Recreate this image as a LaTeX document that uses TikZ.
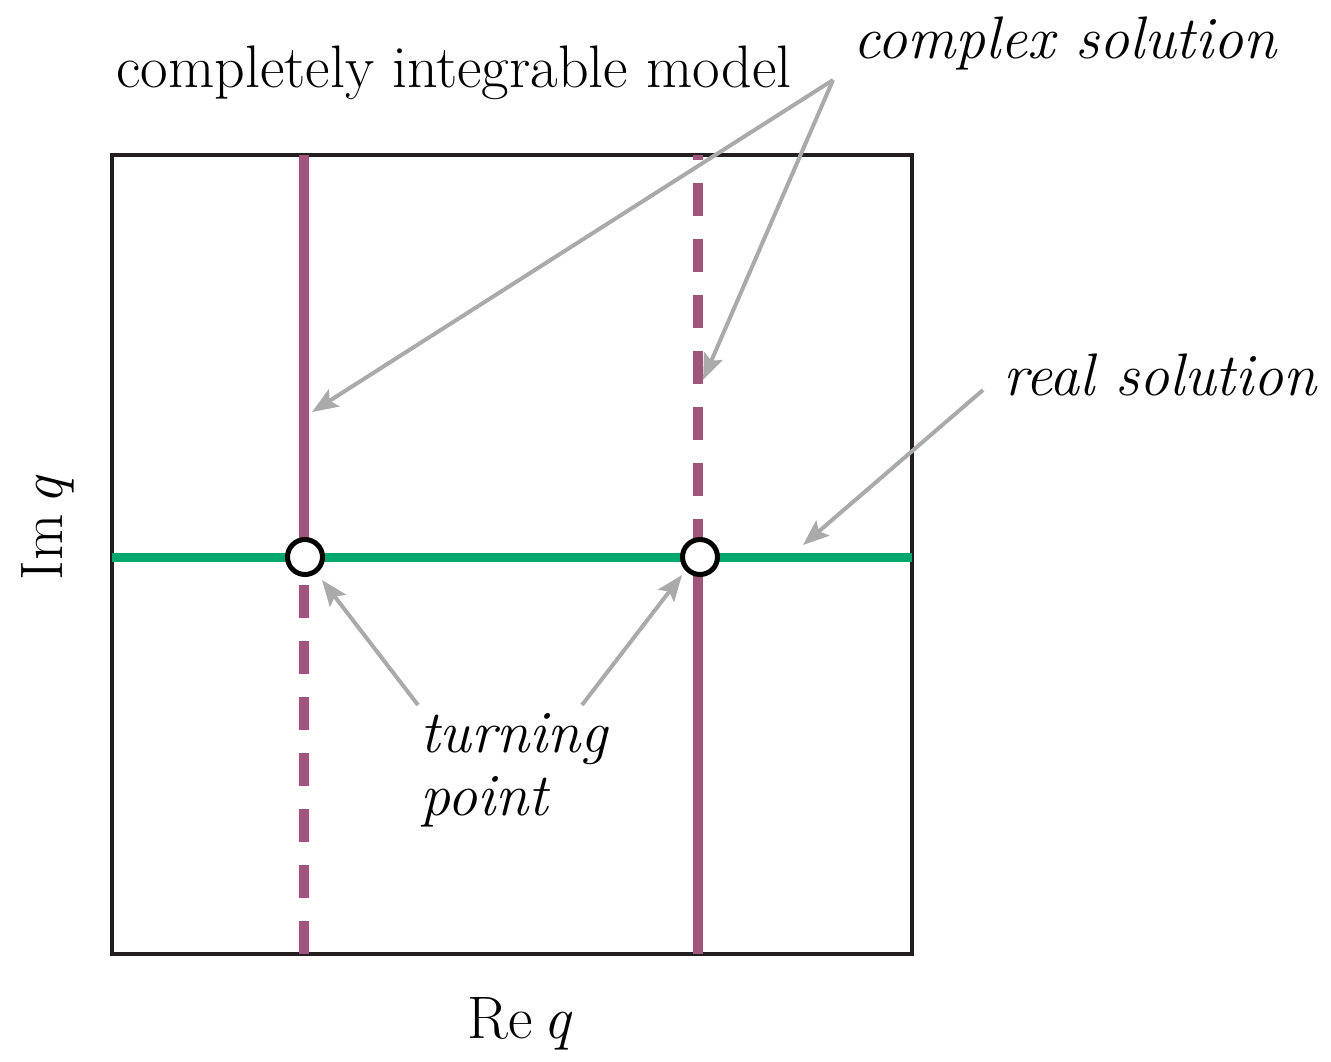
\documentclass[tikz,border=0pt]{standalone}
\usetikzlibrary{arrows.meta}
\definecolor{purp}{HTML}{A0557A}
\definecolor{grn}{HTML}{00A86B}
\definecolor{frame}{HTML}{231F20}
\definecolor{arr}{HTML}{AAAAAA}
\begin{document}
\begin{tikzpicture}[x=0.5pt,y=-0.5pt,
  txt/.style={inner sep=0pt,font=\fontsize{30}{36}\selectfont},
  itxt/.style={txt,font=\fontsize{30}{36}\selectfont\itshape},
  solidline/.style={purp,line width=5pt},
  dashline/.style={purp,line width=5pt,dash pattern=on 16.5pt off 11.5pt},
  realline/.style={grn,line width=4.5pt},
  tp/.style={circle,draw=black,fill=white,line width=2.5pt,minimum size=17.5pt,inner sep=0pt},
  pointer/.style={arr,line width=2pt,-{Stealth[length=13pt,width=10pt,inset=2.5pt]}}]
\useasboundingbox (0,0) rectangle (1331,1061);
% frame
\draw[frame,line width=2pt] (112,155) rectangle (912,954);
% coordinates
\coordinate (lt) at (304,155);
\coordinate (lm) at (304,557);
\coordinate (ld) at (304,585);
\coordinate (lb) at (304,954);
\coordinate (rt) at (698,155);
\coordinate (rm) at (698,557);
\coordinate (rb) at (698,954);
\coordinate (gl) at (112,557);
\coordinate (gr) at (912,557);
% vertical lines
\draw[solidline] (lt) -- (lm);
\draw[dashline] (ld) -- (lb);
\draw[dashline,dash phase=14pt] (rt) -- (rm);
\draw[solidline] (rm) -- (rb);
% real line
\draw[realline] (gl) -- (gr);
% turning points
\node[tp] (tp1) at (305,557) {};
\node[tp] (tp2) at (700,557) {};
% texts
\node[txt,anchor=base] (cim) at (454,87) {completely integrable model};
\node[itxt,anchor=base west] (cs) at (853,58) {complex solution};
\node[itxt,anchor=base west] (rs) at (1003,395) {real solution};
\node[itxt,anchor=base west] (tu) at (420,752) {turning};
\node[itxt,anchor=base west] (po) at (420,815) {point};
\node[txt,anchor=base] (re) at (520,1038) {Re\,\textit{q}};
\node[txt,anchor=base,rotate=90] (im) at (62,528) {Im\,\textit{q}};
% pointer coordinates
\coordinate (cs0) at (833,80);
\coordinate (csa) at (312,412);
\coordinate (csb) at (703,380);
\coordinate (rs0) at (983,390);
\coordinate (rsa) at (803,545);
\coordinate (tu0) at (418,705);
\coordinate (tua) at (322,580);
\coordinate (tu1) at (582,705);
\coordinate (tub) at (682,575);
% pointers
\draw[pointer] (cs0) -- (csa);
\draw[pointer] (cs0) -- (csb);
\draw[pointer] (rs0) -- (rsa);
\draw[pointer] (tu0) -- (tua);
\draw[pointer] (tu1) -- (tub);
\end{tikzpicture}
\end{document}
